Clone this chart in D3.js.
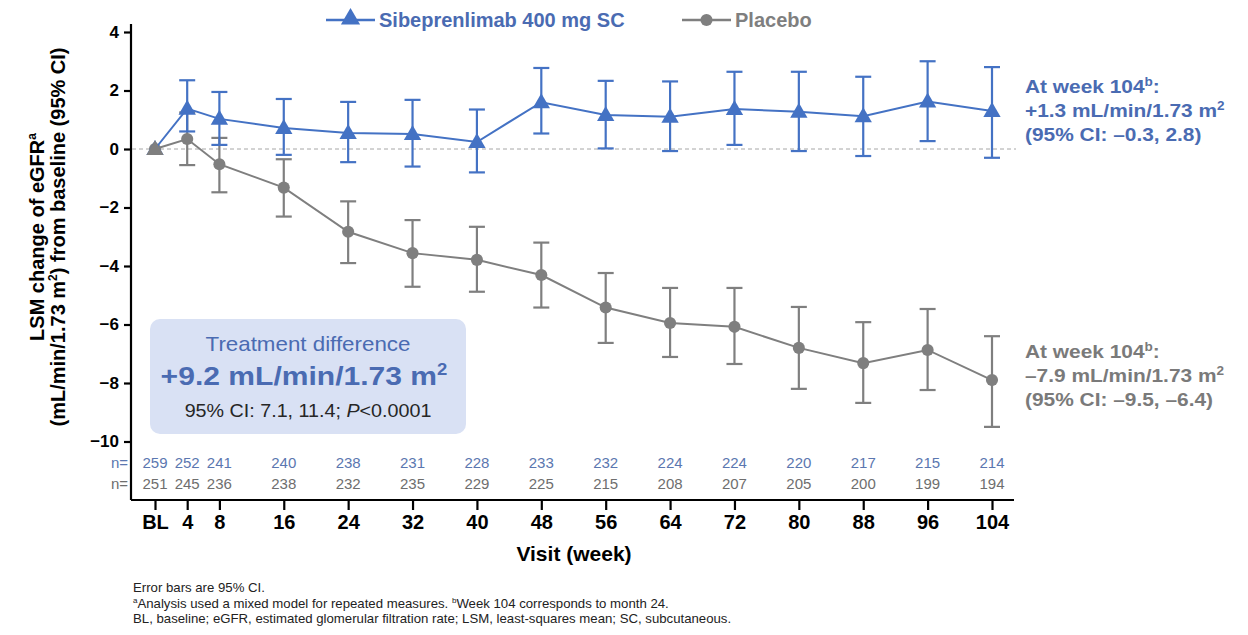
<!DOCTYPE html>
<html>
<head>
<meta charset="utf-8">
<script src="https://cdn.jsdelivr.net/npm/d3@7"></script>
<style>
  body { margin: 0; background: #fff; }
  svg { display: block; font-family: "Liberation Sans", Arial, sans-serif; }
</style>
</head>
<body>
<div id="chart"></div>
<script>
// visits (weeks), BL = 0
const weeks = [0, 4, 8, 16, 24, 32, 40, 48, 56, 64, 72, 80, 88, 96, 104]
const weekLabels = ["BL", "4", "8", "16", "24", "32", "40", "48", "56", "64", "72", "80", "88", "96", "104"]

// Sibeprenlimab 400 mg SC: LSM and 95% CI
const sibMean = [0, 1.38, 1.03, 0.72, 0.55, 0.51, 0.24, 1.6, 1.16, 1.1, 1.37, 1.27, 1.12, 1.62, 1.3]
const sibLow  = [null, 0.6, 0.14, -0.2, -0.45, -0.6, -0.8, 0.53, 0.02, -0.07, 0.14, -0.07, -0.24, 0.27, -0.3]
const sibHigh = [null, 2.35, 1.95, 1.71, 1.61, 1.68, 1.35, 2.77, 2.33, 2.31, 2.64, 2.64, 2.47, 3.0, 2.8]

// Placebo: LSM and 95% CI
const pboMean = [0, 0.34, -0.52, -1.32, -2.83, -3.56, -3.79, -4.31, -5.42, -5.95, -6.08, -6.8, -7.32, -6.87, -7.9]
const pboLow  = [null, -0.55, -1.48, -2.31, -3.9, -4.71, -4.88, -5.42, -6.63, -7.11, -7.35, -8.2, -8.68, -8.24, -9.5]
const pboHigh = [null, 1.25, 0.38, -0.35, -1.79, -2.43, -2.66, -3.2, -4.24, -4.75, -4.75, -5.4, -5.92, -5.47, -6.4]

// patients at each visit
const sibN = [259, 252, 241, 240, 238, 231, 228, 233, 232, 224, 224, 220, 217, 215, 214]
const pboN = [251, 245, 236, 238, 232, 235, 229, 225, 215, 208, 207, 205, 200, 199, 194]

const yTicks = [4, 2, 0, -2, -4, -6, -8, -10]

const blue = "#4472c4"
const blueText = "#4a6bb2"
const gray = "#7f7f7f"

const W = 1248, H = 635

const svg = d3.select("#chart").append("svg")
  .attr("width", W)
  .attr("height", H)

const x = d3.scaleLinear().domain([0, 104]).range([155, 992])
const y = d3.scaleLinear().domain([-10, 4]).range([441.5, 32])

const axisX0 = 131, axisY0 = 500

// stretch a text horizontally so it spans the width seen in the picture
function fitWidth(t, target, ax) {
  const w = t.node().getBBox().width
  const s = target / w
  t.attr("transform", `translate(${ax},0) scale(${s},1) translate(${-ax},0)`)
}

// y axis
const gy = svg.append("g")
  .attr("transform", `translate(${axisX0},0)`)
  .call(d3.axisLeft(y).tickValues(yTicks).tickSize(7).tickSizeOuter(0).tickPadding(5))
gy.select(".domain").attr("d", `M0,24V${axisY0}`)
gy.selectAll("line, path").attr("stroke", "#000").attr("stroke-width", 2.2)
gy.selectAll("text")
  .attr("font-size", 17).attr("font-weight", "bold").attr("fill", "#000")
  .attr("font-family", "Liberation Sans, Arial, sans-serif")

// x axis
const gx = svg.append("g")
  .attr("transform", `translate(0,${axisY0})`)
  .call(d3.axisBottom(x).tickValues(weeks).tickFormat((d, i) => weekLabels[i]).tickSize(10).tickSizeOuter(0).tickPadding(5))
gx.select(".domain").attr("d", `M${axisX0},0H1014`)
gx.selectAll("line, path").attr("stroke", "#000").attr("stroke-width", 2.2)
gx.selectAll("text")
  .attr("font-size", 20).attr("font-weight", "bold").attr("fill", "#000")
  .attr("font-family", "Liberation Sans, Arial, sans-serif")

// zero reference
svg.append("line")
  .attr("x1", axisX0 + 1).attr("x2", 1016)
  .attr("y1", y(0)).attr("y2", y(0))
  .attr("stroke", "#a6a6a6").attr("stroke-width", 1).attr("stroke-dasharray", "4,3")

// treatment difference box
const box = svg.append("g")
box.append("rect")
  .attr("x", 150).attr("y", 319).attr("width", 316).attr("height", 115)
  .attr("rx", 10).attr("fill", "#d9e1f4")
const td = box.append("text")
  .attr("x", 308).attr("y", 351).attr("text-anchor", "middle")
  .attr("font-size", 21).attr("fill", blueText)
  .text("Treatment difference")
fitWidth(td, 205, 308)
const big = box.append("text")
  .attr("x", 304).attr("y", 385).attr("text-anchor", "middle")
  .attr("font-size", 26).attr("font-weight", "bold").attr("fill", blueText)
big.append("tspan").text("+9.2 mL/min/1.73 m")
big.append("tspan").attr("font-size", 16).attr("dy", -10).text("2")
fitWidth(big, 287, 304)
const ci = box.append("text")
  .attr("x", 308).attr("y", 417).attr("text-anchor", "middle")
  .attr("font-size", 17.5).attr("fill", "#262626")
ci.append("tspan").text("95% CI: 7.1, 11.4; ")
ci.append("tspan").attr("font-style", "italic").text("P")
ci.append("tspan").text("<0.0001")
fitWidth(ci, 247, 308)

// series drawing
function drawSeries(mean, low, high, color, marker) {
  const g = svg.append("g")
  const pts = weeks.map((w, i) => ({ w: w, m: mean[i], lo: low[i], hi: high[i] }))

  g.append("path")
    .datum(pts)
    .attr("fill", "none")
    .attr("stroke", color)
    .attr("stroke-width", 2)
    .attr("d", d3.line().x(d => x(d.w)).y(d => y(d.m)))

  const bars = pts.filter(d => d.lo != null)
  const cap = 8
  g.selectAll(".eb").data(bars).join("line")
    .attr("x1", d => x(d.w)).attr("x2", d => x(d.w))
    .attr("y1", d => y(d.lo)).attr("y2", d => y(d.hi))
    .attr("stroke", color).attr("stroke-width", 2.2)
  g.selectAll(".cap-hi").data(bars).join("line")
    .attr("x1", d => x(d.w) - cap).attr("x2", d => x(d.w) + cap)
    .attr("y1", d => y(d.hi)).attr("y2", d => y(d.hi))
    .attr("stroke", color).attr("stroke-width", 2.2)
  g.selectAll(".cap-lo").data(bars).join("line")
    .attr("x1", d => x(d.w) - cap).attr("x2", d => x(d.w) + cap)
    .attr("y1", d => y(d.lo)).attr("y2", d => y(d.lo))
    .attr("stroke", color).attr("stroke-width", 2.2)

  g.selectAll(".pt").data(pts).join("path")
    .attr("transform", d => `translate(${x(d.w)},${y(d.m) + (marker == d3.symbolTriangle ? 1 : 0)})`)
    .attr("d", d3.symbol().type(marker).size(marker == d3.symbolTriangle ? 130 : 115))
    .attr("fill", color)
}

drawSeries(pboMean, pboLow, pboHigh, gray, d3.symbolCircle)
drawSeries(sibMean, sibLow, sibHigh, blue, d3.symbolTriangle)
// BL point for placebo sits below the triangle in the original
svg.append("path")
  .attr("transform", `translate(${x(0)},${y(pboMean[0]) + 1})`)
  .attr("d", d3.symbol().type(d3.symbolTriangle).size(130))
  .attr("fill", gray)

// n= rows
function nRow(vals, color, yy) {
  svg.append("text")
    .attr("x", 128).attr("y", yy).attr("text-anchor", "end")
    .attr("font-size", 15).attr("fill", color).text("n=")
  svg.selectAll(null).data(vals).join("text")
    .attr("x", (d, i) => x(weeks[i]))
    .attr("y", yy)
    .attr("text-anchor", "middle")
    .attr("font-size", 15)
    .attr("fill", color)
    .text(d => d)
}
nRow(sibN, "#5b77b0", 468)
nRow(pboN, "#6e6e6e", 489)

// axis titles
svg.append("text")
  .attr("x", 574).attr("y", 561).attr("text-anchor", "middle")
  .attr("font-size", 21).attr("font-weight", "bold").text("Visit (week)")

const yt1 = svg.append("text")
  .attr("transform", "translate(44,237) rotate(-90)")
  .attr("text-anchor", "middle").attr("font-size", 20).attr("font-weight", "bold")
yt1.append("tspan").text("LSM change of eGFR")
yt1.append("tspan").attr("font-size", 12).attr("dy", -8).text("a")
const yt2 = svg.append("text")
  .attr("transform", "translate(65,237) rotate(-90)")
  .attr("text-anchor", "middle").attr("font-size", 20).attr("font-weight", "bold")
yt2.append("tspan").text("(mL/min/1.73 m")
yt2.append("tspan").attr("font-size", 12).attr("dy", -8).text("2")
yt2.append("tspan").attr("dy", 8).text(") from baseline (95% CI)")

// legend
const legend = [
  { label: "Sibeprenlimab 400 mg SC", color: blue, text: blueText, marker: d3.symbolTriangle, x0: 326 },
  { label: "Placebo", color: gray, text: gray, marker: d3.symbolCircle, x0: 682 }
]
legend.forEach(l => {
  svg.append("line")
    .attr("x1", l.x0).attr("x2", l.x0 + 49).attr("y1", 20).attr("y2", 20)
    .attr("stroke", l.color).attr("stroke-width", 2.5)
  svg.append("path")
    .attr("transform", `translate(${l.x0 + 24.5},${l.marker == d3.symbolTriangle ? 19 : 20})`)
    .attr("d", d3.symbol().type(l.marker).size(l.marker == d3.symbolTriangle ? 160 : 115))
    .attr("fill", l.color)
  svg.append("text")
    .attr("x", l.x0 + 53).attr("y", 27)
    .attr("font-size", 20).attr("font-weight", "bold").attr("fill", l.text)
    .text(l.label)
})

// week 104 annotations
function note(lines, color, y0) {
  lines.forEach((ln, i) => {
    const t = svg.append("text")
      .attr("x", 1025).attr("y", y0 + i * 24)
      .attr("font-size", 18.5).attr("font-weight", "bold").attr("fill", color)
    t.append("tspan").text(ln[0])
    if (ln[1]) {
      t.append("tspan").attr("font-size", 12).attr("dy", -7).text(ln[1])
      t.append("tspan").attr("dy", 7).text(ln[2])
    }
    t.attr("transform", "translate(1025,0) scale(1.13,1) translate(-1025,0)")
  })
}
note([["At week 104", "b", ":"], ["+1.3 mL/min/1.73 m", "2", ""], ["(95% CI: \u20130.3, 2.8)"]], blueText, 93)
note([["At week 104", "b", ":"], ["\u20137.9 mL/min/1.73 m", "2", ""], ["(95% CI: \u20139.5, \u20136.4)"]], "#7a7a7a", 358)

// footnotes
const foot = svg.append("g").attr("font-size", 13.2).attr("fill", "#222")
foot.append("text").attr("x", 133).attr("y", 592).text("Error bars are 95% CI.")
const f2 = foot.append("text").attr("x", 133).attr("y", 607.5)
f2.append("tspan").attr("font-size", 8).attr("dy", -5).text("a")
f2.append("tspan").attr("dy", 5).text("Analysis used a mixed model for repeated measures. ")
f2.append("tspan").attr("font-size", 8).attr("dy", -5).text("b")
f2.append("tspan").attr("dy", 5).text("Week 104 corresponds to month 24.")
foot.append("text").attr("x", 133).attr("y", 623)
  .text("BL, baseline; eGFR, estimated glomerular filtration rate; LSM, least-squares mean; SC, subcutaneous.")
</script>
</body>
</html>
